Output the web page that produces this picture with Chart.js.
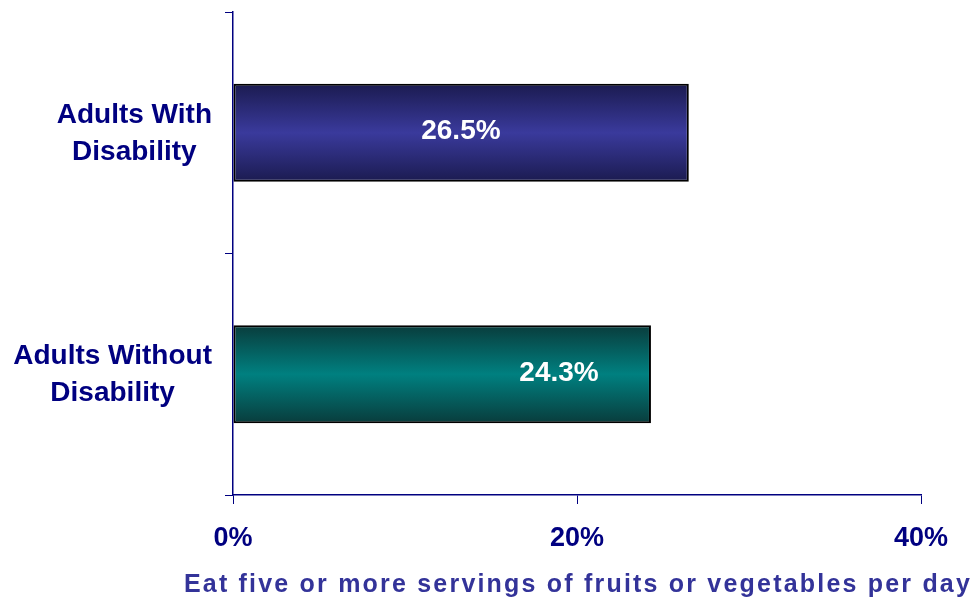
<!DOCTYPE html>
<html>
<head>
<meta charset="utf-8">
<script src="https://cdn.jsdelivr.net/npm/chart.js@4.4.1/dist/chart.umd.min.js"></script>
<style>
  html, body { margin: 0; padding: 0; background: #fff; }
</style>
</head>
<body>
<canvas id="c" width="974" height="600"></canvas>
<script>
const categories = [['Adults With', 'Disability'], ['Adults Without', 'Disability']]
const values = [26.5, 24.3]
const xTicks = [0, 20, 40]
const axisTitle = 'Eat five or more servings of fruits or vegetables per day'

const navy = '#000080'
// [edge, middle] colours of each bar's gradient
const barShades = [['#1b1b50', '#3a3a9c'], ['#093c3c', '#008080']]
// where the value text sits along each bar (fraction of bar length)
const labelPos = [0.5, 0.78]
const barPct = 0.405

function barFill(ctx) {
  const chart = ctx.chart
  const i = ctx.dataIndex
  const y = chart.scales.y
  if (!chart.chartArea || !y || y.height == null) return barShades[i][1]
  const yc = y.getPixelForValue(i)
  const half = y.height / categories.length * barPct / 2
  const g = chart.ctx.createLinearGradient(0, yc - half, 0, yc + half)
  g.addColorStop(0, barShades[i][0])
  g.addColorStop(0.5, barShades[i][1])
  g.addColorStop(1, barShades[i][0])
  return g
}

const labelsPlugin = {
  id: 'labels',
  afterDraw(chart) {
    const ctx = chart.ctx
    const x = chart.scales.x
    const y = chart.scales.y
    ctx.save()
    // category labels, each line centred inside its own block
    ctx.font = 'bold 28px "Liberation Sans", Arial, sans-serif'
    ctx.fillStyle = navy
    ctx.textAlign = 'center'
    ctx.textBaseline = 'middle'
    categories.forEach(function(lines, i) {
      const w = Math.max(...lines.map(l => ctx.measureText(l).width))
      const cx = 212 - w / 2
      const cy = y.getPixelForValue(i)
      const lh = 37
      lines.forEach(function(l, k) {
        ctx.fillText(l, cx, cy + (k - (lines.length - 1) / 2) * lh + 1)
      })
    })
    // values inside the bars
    ctx.font = 'bold 28px "Liberation Sans", Arial, sans-serif'
    ctx.fillStyle = '#ffffff'
    values.forEach(function(v, i) {
      ctx.fillText(v.toFixed(1) + '%', x.getPixelForValue(v * labelPos[i]), y.getPixelForValue(i) - 1)
    })
    // axis title
    ctx.font = 'bold 25px "Liberation Sans", Arial, sans-serif'
    ctx.fillStyle = '#333399'
    ctx.letterSpacing = '2.2px'
    ctx.fillText(axisTitle, (chart.chartArea.left + chart.chartArea.right) / 2 + 1, 585)
    ctx.restore()
  }
}

new Chart(document.getElementById('c'), {
  type: 'bar',
  data: {
    labels: categories,
    datasets: [{
      data: values,
      backgroundColor: barFill,
      borderColor: '#000000',
      borderWidth: 2,
      borderSkipped: false,
      barPercentage: barPct,
      categoryPercentage: 1
    }]
  },
  options: {
    indexAxis: 'y',
    responsive: false,
    animation: false,
    devicePixelRatio: 1,
    layout: { padding: { top: 12, right: 53, left: 0, bottom: 0 } },
    plugins: {
      legend: { display: false },
      tooltip: { enabled: false }
    },
    scales: {
      x: {
        min: 0,
        max: 40,
        afterBuildTicks: function(s) { s.ticks = xTicks.map(v => ({ value: v })) },
        afterFit: function(s) { s.height = 105 },
        grid: { drawOnChartArea: false, drawTicks: true, tickLength: 9, color: navy, lineWidth: 1 },
        border: { display: true, color: navy, width: 1.5 },
        ticks: {
          color: navy,
          padding: 18,
          font: { family: '"Liberation Sans", Arial, sans-serif', size: 27, weight: 'bold' },
          callback: v => v + '%'
        }
      },
      y: {
        afterFit: function(s) { s.width = 233 },
        grid: { drawOnChartArea: false, drawTicks: true, tickLength: 8, color: navy, lineWidth: 1, offset: true },
        border: { display: true, color: navy, width: 1.5 },
        ticks: { display: false }
      }
    }
  },
  plugins: [labelsPlugin]
})
</script>
</body>
</html>
